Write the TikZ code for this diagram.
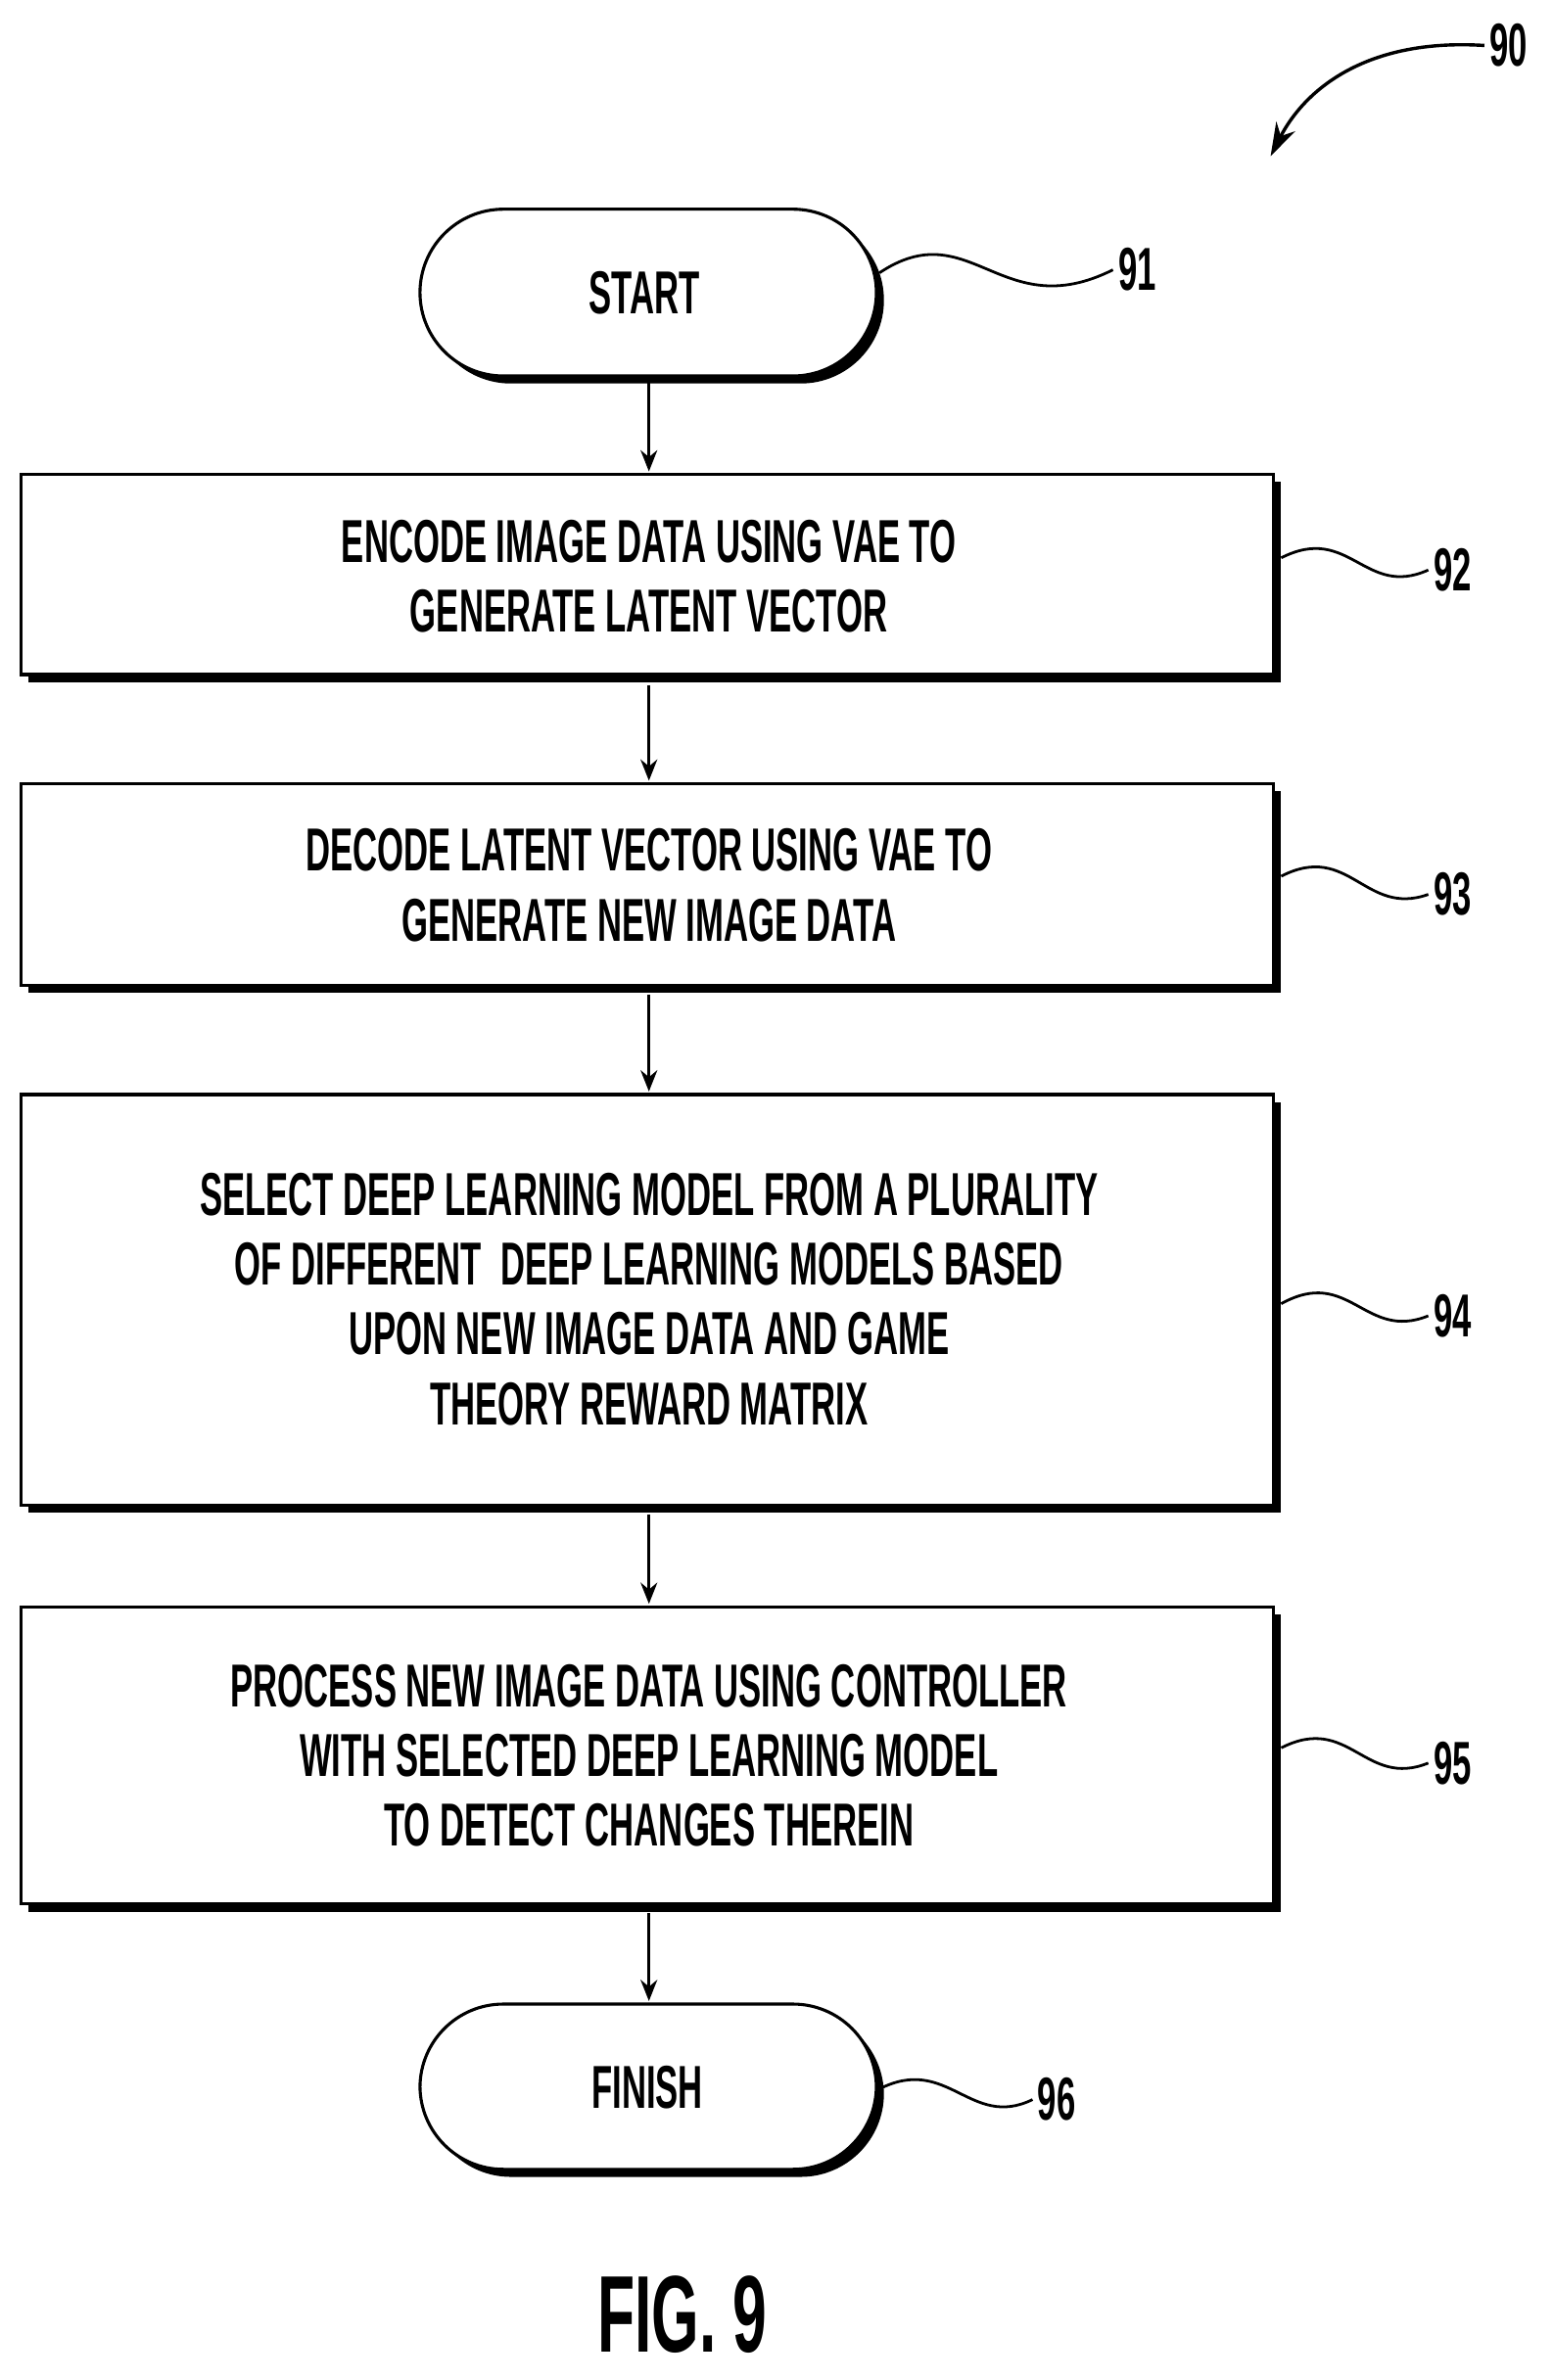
\documentclass[tikz,border=0pt]{standalone}
\usepackage{fontspec}
\setmainfont{Liberation Sans}[BoldFont=Liberation Sans Bold]
\newfontfamily\cond[FakeStretch=0.56]{Liberation Sans Bold}
\usetikzlibrary{arrows.meta,calc}
\begin{document}
\begin{tikzpicture}[x=1pt,y=-1pt,
  txt/.style={font=\cond\fontsize{40}{46}\selectfont,align=center},
  ln/.style={line width=2pt},
  arr/.style={ln,-{Stealth[length=14pt,width=11pt]}},
  sq/.style={line width=1.8pt}]
\useasboundingbox (0,0) rectangle (1024,1570);
\newcommand\myshbox[5]{%
  \fill (#1+5,#2+5) rectangle (#3+5,#4+5);
  \filldraw[ln,fill=white] (#1,#2) rectangle (#3,#4);
  \coordinate (#5) at ($(#1,#2)!0.5!(#3,#4)$);}
\newcommand\myspill[5]{%
  \fill[rounded corners=55pt] (#1+5,#2+5) rectangle (#3+5,#4+5);
  \filldraw[ln,fill=white,rounded corners=55pt] (#1,#2) rectangle (#3,#4);
  \coordinate (#5) at ($(#1,#2)!0.5!(#3,#4)$);}
\myspill{277}{138}{578}{248}{s}
\myshbox{14}{313}{840}{445}{b2}
\myshbox{14}{517}{840}{650}{b3}
\myshbox{14}{722}{840}{993}{b4}
\myshbox{14}{1060}{840}{1256}{b5}
\myspill{277}{1322}{578}{1431}{f}
\node[txt] (ts) at (425,193) {START};
\node[txt] (t2) at (428,380) {ENCODE IMAGE DATA USING VAE TO\\GENERATE LATENT VECTOR};
\node[txt] (t3) at (428,584) {DECODE LATENT VECTOR USING VAE TO\\GENERATE NEW IMAGE DATA};
\node[txt] (t4) at (428,857) {SELECT DEEP LEARNING MODEL FROM A PLURALITY\\OF DIFFERENT~ DEEP LEARNING MODELS BASED\\UPON NEW IMAGE DATA AND GAME\\THEORY REWARD MATRIX};
\node[txt] (t5) at (428,1158) {PROCESS NEW IMAGE DATA USING CONTROLLER\\WITH SELECTED DEEP LEARNING MODEL\\TO DETECT CHANGES THEREIN};
\node[txt] (tf) at (427,1377) {FINISH};
\coordinate (a1) at (428,250); \coordinate (a1e) at (428,311);
\coordinate (a2) at (428,452); \coordinate (a2e) at (428,515);
\coordinate (a3) at (428,656); \coordinate (a3e) at (428,720);
\coordinate (a4) at (428,999); \coordinate (a4e) at (428,1058);
\coordinate (a5) at (428,1262); \coordinate (a5e) at (428,1320);
\foreach \p in {a1,a2,a3,a4,a5}{\draw[arr] (\p) -- (\p e);}
\node[txt] (l91) at (750,178) {91};
\node[txt] (l92) at (958,376) {92};
\node[txt] (l93) at (958,590) {93};
\node[txt] (l94) at (958,868) {94};
\node[txt] (l95) at (958,1163) {95};
\node[txt] (l96) at (697,1385) {96};
\node[txt] (l90) at (995,30) {90};
\draw[sq] (580,180) .. controls (640,140) and (660,215) .. (l91.west);
\draw[sq] (845,368) .. controls (890,345) and (900,395) .. (l92.west);
\draw[sq] (845,578) .. controls (890,555) and (900,605) .. (l93.west);
\draw[sq] (845,860) .. controls (890,835) and (900,885) .. (l94.west);
\draw[sq] (845,1153) .. controls (890,1130) and (900,1180) .. (l95.west);
\draw[sq] (580,1378) .. controls (625,1355) and (640,1405) .. (l96.west);
\draw[line width=2.2pt,-{Stealth[length=22pt,width=14pt]}] (l90.west) .. controls (900,25) and (860,60) .. (838,103);
\node[font=\cond\fontsize{72}{80}\selectfont] (fig) at (450,1527) {FIG. 9};
\end{tikzpicture}
\end{document}
